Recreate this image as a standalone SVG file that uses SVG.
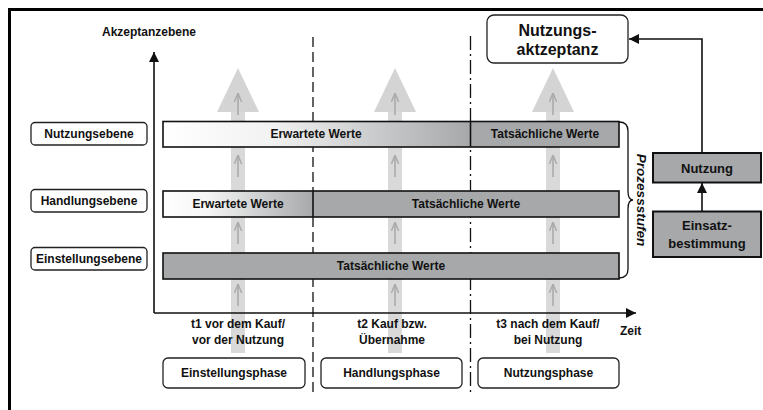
<svg xmlns="http://www.w3.org/2000/svg" width="763" height="410" viewBox="0 0 763 410">
<defs>
<style>
text{font-family:"Liberation Sans",Arial,sans-serif;font-weight:bold;fill:#111;}
.t12{font-size:12px;}
.lbl{fill:#fff;stroke:#222;stroke-width:1.3;}
.bar{stroke:#111;stroke-width:1.6;}
.gray{fill:#a6a8aa;}
.box{fill:#a6a8aa;stroke:#111;stroke-width:2;}
.shaft{fill:#d9d9d9;}
.head{fill:#d4d4d4;}
.small{stroke:#aaaaaa;stroke-width:1.6;fill:none;}
.dash{stroke:#111;stroke-width:1.3;fill:none;}
.axis{stroke:#111;stroke-width:1.6;fill:none;}
</style>
<linearGradient id="g1" x1="163" y1="0" x2="470" y2="0" gradientUnits="userSpaceOnUse">
<stop offset="0" stop-color="#ffffff"/><stop offset="0.35" stop-color="#f2f2f2"/><stop offset="1" stop-color="#a6a8aa"/>
</linearGradient>
<linearGradient id="g2" x1="163" y1="0" x2="313" y2="0" gradientUnits="userSpaceOnUse">
<stop offset="0" stop-color="#ffffff"/><stop offset="0.3" stop-color="#f5f5f5"/><stop offset="1" stop-color="#a6a8aa"/>
</linearGradient>
<marker id="ah" viewBox="0 0 10 10" refX="10" refY="5" markerWidth="10" markerHeight="10" markerUnits="userSpaceOnUse" orient="auto">
<path d="M0,0 L10,5 L0,10 Z" fill="#111"/>
</marker>
<marker id="ahs" viewBox="0 0 10 10" refX="10" refY="5" markerWidth="9" markerHeight="9" markerUnits="userSpaceOnUse" orient="auto">
<path d="M0,1 L10,5 L0,9" fill="none" stroke="#aaaaaa" stroke-width="1.6"/>
</marker>
<g id="bigarrow">
<rect class="shaft" x="-7" y="110" width="14" height="243"/>
<path class="head" d="M0,68 L21,112 L-21,112 Z"/>
<line class="small" x1="0" y1="115" x2="0" y2="93" marker-end="url(#ahs)"/>
<line class="small" x1="0" y1="177" x2="0" y2="155" marker-end="url(#ahs)"/>
<line class="small" x1="0" y1="244" x2="0" y2="222" marker-end="url(#ahs)"/>
<line class="small" x1="0" y1="306" x2="0" y2="284" marker-end="url(#ahs)"/>
</g>
</defs>
<rect width="763" height="410" fill="#fff"/>
<!-- outer frame (partially visible) -->
<path d="M9.5,410 L9.5,9.5 L763,9.5" fill="none" stroke="#000" stroke-width="3"/>

<!-- background big arrows -->
<g id="background-arrows">
<use href="#bigarrow" x="238"/>
<use href="#bigarrow" x="395"/>
<use href="#bigarrow" x="553"/>
</g>

<!-- phase dividers -->
<g id="dividers">
<line class="dash" x1="313" y1="37" x2="313" y2="392" stroke-dasharray="10 5"/>
<line class="dash" x1="470.5" y1="36" x2="470.5" y2="392" stroke-dasharray="14 4 2 4"/>
</g>

<!-- axes -->
<g id="axes">
<line class="axis" x1="154" y1="313" x2="154" y2="52" marker-end="url(#ah)"/>
<line class="axis" x1="154" y1="313" x2="636" y2="313" marker-end="url(#ah)"/>
<text class="t12" x="149" y="36" text-anchor="middle">Akzeptanzebene</text>
<text class="t12" x="620" y="335">Zeit</text>
</g>

<!-- level labels -->
<g id="label-nutzungsebene">
<rect class="lbl" x="31" y="122.5" width="116" height="22.5" rx="4"/>
<text class="t12" x="89" y="138" text-anchor="middle">Nutzungsebene</text>
</g>
<g id="label-handlungsebene">
<rect class="lbl" x="31" y="189.5" width="116" height="22.5" rx="4"/>
<text class="t12" x="89" y="205" text-anchor="middle">Handlungsebene</text>
</g>
<g id="label-einstellungsebene">
<rect class="lbl" x="31" y="247.5" width="116" height="22.5" rx="4"/>
<text class="t12" x="89" y="263" text-anchor="middle">Einstellungsebene</text>
</g>

<!-- bars -->
<g id="bar-nutzungsebene">
<rect x="163" y="121.5" width="307.5" height="25.5" fill="url(#g1)"/>
<rect class="gray" x="470.5" y="121.5" width="148.5" height="25.5"/>
<rect class="bar" x="163" y="121.5" width="456" height="25.5" fill="none"/>
<line class="bar" x1="470.5" y1="121.5" x2="470.5" y2="147"/>
<text class="t12" x="316" y="138" text-anchor="middle">Erwartete Werte</text>
<text class="t12" x="545" y="138" text-anchor="middle">Tatsächliche Werte</text>
</g>
<g id="bar-handlungsebene">
<rect x="163" y="191" width="150" height="26" fill="url(#g2)"/>
<rect class="gray" x="313" y="191" width="306" height="26"/>
<rect class="bar" x="163" y="191" width="456" height="26" fill="none"/>
<line class="bar" x1="313" y1="191" x2="313" y2="217"/>
<text class="t12" x="238" y="208" text-anchor="middle">Erwartete Werte</text>
<text class="t12" x="466" y="208" text-anchor="middle">Tatsächliche Werte</text>
</g>
<g id="bar-einstellungsebene">
<rect class="bar gray" x="163" y="253" width="456" height="26"/>
<text class="t12" x="391" y="270" text-anchor="middle">Tatsächliche Werte</text>
</g>

<!-- brace -->
<g id="prozessstufen">
<path d="M619,122 Q628,122 628,131 L628,191 Q628,200 633,200 Q628,200 628,209 L628,269 Q628,278 619,278" fill="none" stroke="#111" stroke-width="1.3"/>
<text x="0" y="0" transform="translate(637,200) rotate(90)" text-anchor="middle" style="font-size:13.5px;font-style:italic;">Prozessstufen</text>
</g>

<!-- time labels -->
<g id="time-t1">
<text class="t12" x="238" y="328" text-anchor="middle">t1 vor dem Kauf/</text>
<text class="t12" x="238" y="344" text-anchor="middle">vor der Nutzung</text>
</g>
<g id="time-t2">
<text class="t12" x="392" y="328" text-anchor="middle">t2 Kauf bzw.</text>
<text class="t12" x="392" y="344" text-anchor="middle">Übernahme</text>
</g>
<g id="time-t3">
<text class="t12" x="548" y="328" text-anchor="middle">t3 nach dem Kauf/</text>
<text class="t12" x="548" y="344" text-anchor="middle">bei Nutzung</text>
</g>

<!-- phase boxes -->
<g id="phase-einstellung">
<rect class="lbl" x="163" y="358" width="142" height="30" rx="5"/>
<text class="t12" x="234" y="377" text-anchor="middle">Einstellungsphase</text>
</g>
<g id="phase-handlung">
<rect class="lbl" x="321" y="358" width="141" height="30" rx="5"/>
<text class="t12" x="391.5" y="377" text-anchor="middle">Handlungsphase</text>
</g>
<g id="phase-nutzung">
<rect class="lbl" x="478" y="358" width="141" height="30" rx="5"/>
<text class="t12" x="548.5" y="377" text-anchor="middle">Nutzungsphase</text>
</g>

<!-- right side nodes -->
<g id="nutzungsakzeptanz">
<rect class="lbl" x="487" y="15" width="141" height="48" rx="7"/>
<text x="557.5" y="36" text-anchor="middle" style="font-size:16px;">Nutzungs-</text>
<text x="557.5" y="55" text-anchor="middle" style="font-size:16px;">aktzeptanz</text>
</g>
<g id="nutzung">
<rect class="box" x="653" y="153" width="108" height="29.5"/>
<text x="707" y="173" text-anchor="middle" style="font-size:13px;">Nutzung</text>
</g>
<g id="einsatzbestimmung">
<rect class="box" x="653" y="211.5" width="108" height="45.5"/>
<text x="707" y="230" text-anchor="middle" style="font-size:13px;">Einsatz-</text>
<text x="707" y="248" text-anchor="middle" style="font-size:13px;">bestimmung</text>
</g>

<!-- connectors -->
<g id="connectors">
<path class="axis" d="M702,153 L702,39 L629,39" marker-end="url(#ah)"/>
<line class="axis" x1="702" y1="211" x2="702" y2="183" marker-end="url(#ah)"/>
</g>
</svg>
